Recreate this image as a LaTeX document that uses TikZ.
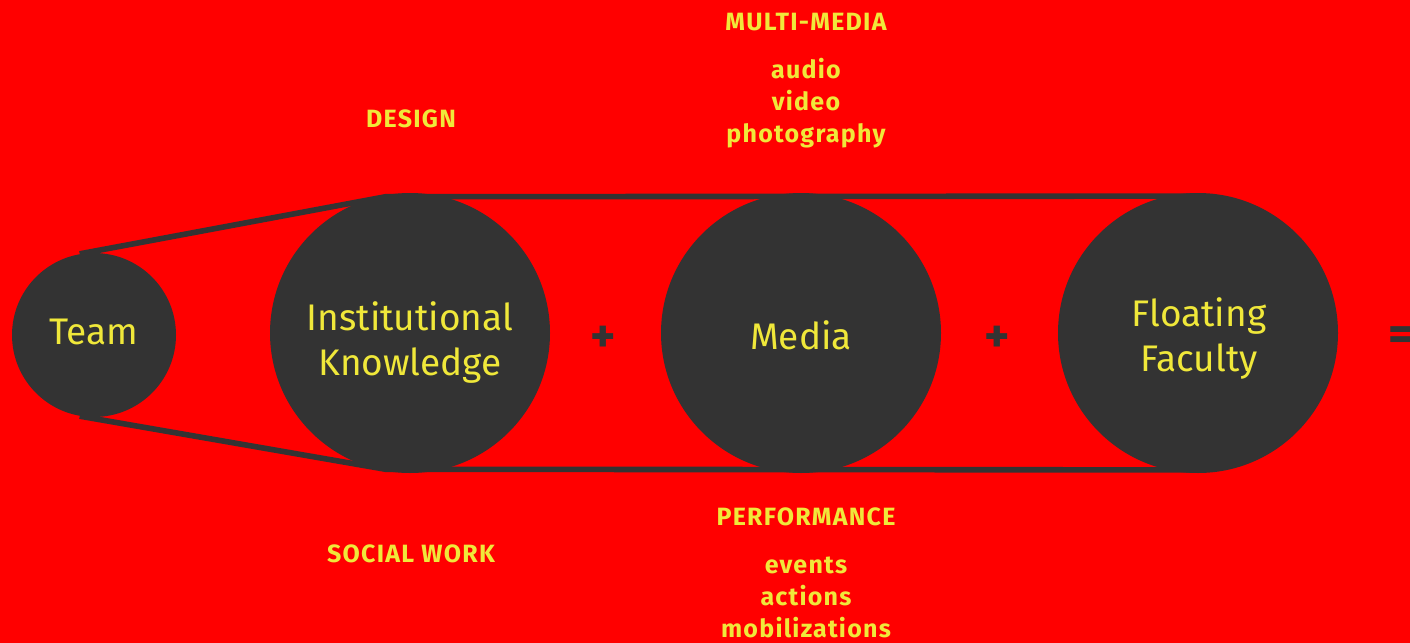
\documentclass[tikz,border=0pt]{standalone}
\usepackage{fontspec}
\setmainfont{Fira Sans}
\usetikzlibrary{calc, positioning, backgrounds}
\definecolor{bgred}{RGB}{255,0,0}
\definecolor{wheel}{RGB}{51,51,51}
\definecolor{labelyellow}{RGB}{240,232,58}

\begin{document}
\begin{tikzpicture}[x=0.5pt, y=-0.5pt,
        pulley/.style={circle, fill=wheel, inner sep=0pt},
        wheeltext/.style={text=labelyellow, align=center, inner sep=0pt,
            font=\fontsize{18.5}{22.5}\selectfont},
        belt/.style={draw=wheel, line width=2.8pt},
        area/.style={text=labelyellow, align=center, inner sep=0pt,
            font=\bfseries\fontsize{12.5}{16}\selectfont\addfontfeatures{LetterSpace=5}},
        sign/.style={text=wheel, inner sep=0pt, font=\bfseries\fontsize{24}{24}\selectfont}
    ]
        \useasboundingbox (0,0) rectangle (1410,643);

        \node[pulley, minimum size=82pt] (team) at (94,335) {};
        \node[pulley, minimum size=140pt] (knowledge) at (410,333) {};
        \node[pulley, minimum size=140pt] (media) at (801,333) {};
        \node[pulley, minimum size=140pt] (faculty) at (1198,333) {};

        \node[wheeltext] (teamtext) at (94,332) {Team};
        \node[wheeltext] (knowledgetext) at (410,343) {Institutional\\Knowledge};
        \node[wheeltext] (mediatext) at (801,335) {Media};
        \node[wheeltext] (facultytext) at (1199,338.5) {Floating\\Faculty};

        \begin{scope}[on background layer]
            \fill[bgred] (0,0) rectangle (1410,643);
            \draw[belt] (team.100) -- ($(knowledge.100)+(0,2)$) -- ($(faculty.north)+(0,3.5)$);
            \draw[belt] (team.-100) -- ($(knowledge.-100)+(0,-2)$) -- ($(faculty.south)+(0,-3.5)$);
        \end{scope}

        \node[sign] (plus1) at (603,339) {+};
        \node[sign] (plus2) at (997,339) {+};
        \node[sign, anchor=west] (equals) at (1388,339) {=};

        \node[area] (design) at (411,119) {DESIGN};
        \node[area] (social) at (411,554) {SOCIAL WORK};
        \node[area] (multimedia) at (806,22) {MULTI-MEDIA};
        \node[area] (mmlist) at (806,103) {audio\\video\\photography};
        \node[area] (performance) at (806,517) {PERFORMANCE};
        \node[area] (perflist) at (806,597) {events\\actions\\mobilizations};
    \end{tikzpicture}
\end{document}
